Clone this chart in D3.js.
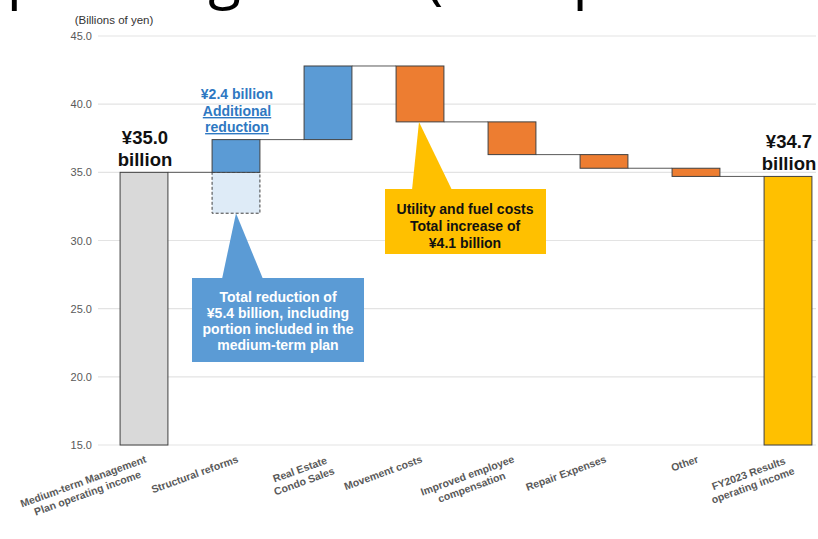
<!DOCTYPE html>
<html>
<head>
<meta charset="utf-8">
<script src="https://cdn.jsdelivr.net/npm/d3@7"></script>
<style>
  body { margin: 0; background: #fff; }
  svg { display: block; font-family: "Liberation Sans", Arial, sans-serif; }
</style>
</head>
<body>
<div id="chart"></div>
<script>
// chart data (billions of yen)
var categories = [
  "Medium-term Management|Plan  operating income",
  "Structural reforms",
  "Real Estate|Condo Sales",
  "Movement costs",
  "Improved employee|compensation",
  "Repair Expenses",
  "Other",
  "FY2023 Results|operating income"
];
var startValue = 35.0;
var changes = [2.4, 5.4, -4.1, -2.4, -1.0, -0.6];
var endValue = 34.7;
var plannedReduction = -3.0; // dashed part of structural reforms
var yTicks = [15, 20, 25, 30, 35, 40, 45];

var width = 818;
var height = 539;

var svg = d3.select("#chart")
    .append("svg")
    .attr("width", width)
    .attr("height", height);

// slide title, cut off at the top edge (only descenders show)
svg.append("text")
    .attr("x", -40)
    .attr("y", -3)
    .style("font-family", "'Open Sans', sans-serif")
    .style("font-size", "60px")
    .attr("fill", "#000")
    .text("Operating Profit (Comparison to Plan)");

// scales
var x = d3.scaleBand()
    .domain(categories)
    .range([98, 834])
    .paddingInner(0.48)
    .paddingOuter(0.24);

var y = d3.scaleLinear()
    .domain([15, 45])
    .range([445, 36]);

// gridlines
svg.append("g")
    .selectAll("line")
    .data(yTicks)
    .enter()
    .append("line")
    .attr("x1", 98)
    .attr("x2", 816)
    .attr("y1", function(d) { return y(d); })
    .attr("y2", function(d) { return y(d); })
    .attr("stroke", "#e3e3e3")
    .attr("stroke-width", 1.2);

// y axis labels
var yAxis = svg.append("g")
    .attr("transform", "translate(98,0)")
    .call(d3.axisLeft(y).tickValues(yTicks).tickFormat(d3.format(".1f")).tickSize(0).tickPadding(6));
yAxis.select(".domain").remove();
yAxis.selectAll("text")
    .style("font-family", "'Liberation Sans', Arial, sans-serif")
    .style("font-size", "11px")
    .attr("fill", "#595959");

svg.append("text")
    .attr("x", 114)
    .attr("y", 24)
    .attr("text-anchor", "middle")
    .style("font-size", "11.5px")
    .attr("fill", "#333")
    .text("(Billions of yen)");

// build waterfall rows
var bars = [];
var running = startValue;
bars.push({ cat: categories[0], y0: 15, y1: startValue, color: "#d9d9d9", level: startValue });
changes.forEach(function(c, i) {
    var from = running;
    running = Math.round((running + c) * 10) / 10;
    bars.push({ cat: categories[i + 1], y0: from, y1: running, color: c > 0 ? "#5b9bd5" : "#ed7d31", level: running });
});
bars.push({ cat: categories[7], y0: 15, y1: endValue, color: "#ffc000", level: endValue });

// connector lines
var connectors = bars.slice(0, bars.length - 1);
svg.append("g")
    .selectAll("line")
    .data(connectors)
    .enter()
    .append("line")
    .attr("x1", function(d) { return x(d.cat) + x.bandwidth(); })
    .attr("x2", function(d, i) { return x(bars[i + 1].cat); })
    .attr("y1", function(d) { return y(d.level); })
    .attr("y2", function(d) { return y(d.level); })
    .attr("stroke", "#595959")
    .attr("stroke-width", 1);

// dashed planned reduction box
svg.append("rect")
    .attr("x", x(categories[1]))
    .attr("y", y(startValue))
    .attr("width", x.bandwidth())
    .attr("height", y(startValue + plannedReduction) - y(startValue))
    .attr("fill", "#deebf7")
    .attr("stroke", "#404040")
    .attr("stroke-width", 1)
    .attr("stroke-dasharray", "3,2");

// bars
svg.append("g")
    .selectAll("rect")
    .data(bars)
    .enter()
    .append("rect")
    .attr("x", function(d) { return x(d.cat); })
    .attr("y", function(d) { return y(Math.max(d.y0, d.y1)); })
    .attr("width", x.bandwidth())
    .attr("height", function(d) { return Math.abs(y(d.y0) - y(d.y1)); })
    .attr("fill", function(d) { return d.color; })
    .attr("stroke", "#404040")
    .attr("stroke-width", 1);

// category labels, rotated
var catLabels = svg.append("g")
    .selectAll("g")
    .data(categories)
    .enter()
    .append("g")
    .attr("transform", function(d) { return "translate(" + (x(d) + x.bandwidth() / 2 + 3) + ",462) rotate(-20)"; });

catLabels.each(function(d) {
    var g = d3.select(this);
    var lines = d.split("|");
    var t = g.append("text")
        .style("font-size", "10.5px")
        .style("font-weight", "bold")
        .attr("fill", "#595959");
    lines.forEach(function(l, i) {
        t.append("tspan").attr("x", 0).attr("y", i * 12.5).text(l);
    });
    var w = 0;
    t.selectAll("tspan").each(function() { w = Math.max(w, this.getComputedTextLength()); });
    t.attr("text-anchor", "middle").attr("transform", "translate(" + (-w / 2) + ",0)");
});

// value labels over first and last bars
function valueLabel(cat, v) {
    var cx = x(cat) + x.bandwidth() / 2;
    var t = svg.append("text")
        .attr("text-anchor", "middle")
        .style("font-size", "18.5px")
        .style("font-weight", "bold")
        .attr("fill", "#111");
    t.append("tspan").attr("x", cx + 1).attr("y", y(v) - 28).text("¥" + v.toFixed(1));
    t.append("tspan").attr("x", cx + 1).attr("y", y(v) - 6).text("billion");
}
valueLabel(categories[0], startValue);
valueLabel(categories[7], endValue);

// blue "additional reduction" note
var note = svg.append("text")
    .attr("text-anchor", "middle")
    .style("font-size", "14px")
    .style("font-weight", "bold")
    .attr("fill", "#2e78c2");
var sx = x(categories[1]) + x.bandwidth() / 2 + 1;
note.append("tspan").attr("x", sx).attr("y", 99).text("¥" + changes[0].toFixed(1) + " billion");
note.append("tspan").attr("x", sx).attr("y", 116).style("text-decoration", "underline").text("Additional");
note.append("tspan").attr("x", sx).attr("y", 132).style("text-decoration", "underline").text("reduction");

// blue callout
var bx = x(categories[1]) + x.bandwidth() / 2;
var by = y(startValue + plannedReduction);
svg.append("path")
    .attr("d", "M" + bx + "," + by + " L222,279 L263,279 Z")
    .attr("fill", "#5b9bd5");
svg.append("rect")
    .attr("x", 192).attr("y", 278)
    .attr("width", 172).attr("height", 84)
    .attr("fill", "#5b9bd5");
var blueText = ["Total reduction of", "¥5.4 billion, including", "portion included in the", "medium-term plan"];
svg.append("text")
    .attr("text-anchor", "middle")
    .style("font-size", "14px")
    .style("font-weight", "bold")
    .attr("fill", "#fff")
    .selectAll("tspan")
    .data(blueText)
    .enter()
    .append("tspan")
    .attr("x", 278)
    .attr("y", function(d, i) { return 302 + i * 16; })
    .text(function(d) { return d; });

// yellow callout
var mx = x(categories[3]) + x.bandwidth() / 2 - 1;
var my = y(bars[3].level);
svg.append("path")
    .attr("d", "M" + mx + "," + my + " L412,190 L452,190 Z")
    .attr("fill", "#ffc000");
svg.append("rect")
    .attr("x", 385).attr("y", 189)
    .attr("width", 161).attr("height", 65)
    .attr("fill", "#ffc000");
var yellowText = ["Utility and fuel costs", "Total increase of", "¥4.1 billion"];
svg.append("text")
    .attr("text-anchor", "middle")
    .style("font-size", "14px")
    .style("font-weight", "bold")
    .attr("fill", "#111")
    .selectAll("tspan")
    .data(yellowText)
    .enter()
    .append("tspan")
    .attr("x", 465)
    .attr("y", function(d, i) { return 214 + i * 17; })
    .text(function(d) { return d; });
</script>
</body>
</html>
